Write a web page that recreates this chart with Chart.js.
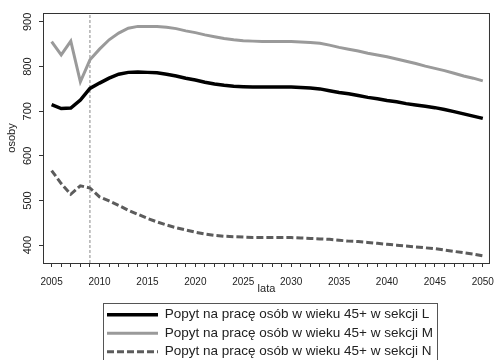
<!DOCTYPE html>
<html>
<head>
<meta charset="utf-8">
<script src="https://cdn.jsdelivr.net/npm/chart.js@4.4.1/dist/chart.umd.min.js"></script>
<style>
    html, body { margin: 0; padding: 0; background: #fff; }
    #wrap { width: 503px; height: 360px; }
</style>
</head>
<body>
<div id="wrap"><canvas id="lineChart" width="503" height="360"></canvas></div>
<script>
/** --------------------DATA-------------------- */

const years = [2005, 2006, 2007, 2008, 2009, 2010, 2011, 2012, 2013, 2014,
    2015, 2016, 2017, 2018, 2019, 2020, 2021, 2022, 2023, 2024,
    2025, 2026, 2027, 2028, 2029, 2030, 2031, 2032, 2033, 2034,
    2035, 2036, 2037, 2038, 2039, 2040, 2041, 2042, 2043, 2044,
    2045, 2046, 2047, 2048, 2049, 2050];

const sekcjaL = [715, 706, 707, 725, 751, 763, 774, 783, 787, 788,
    787, 786, 783, 779, 774, 770, 765, 761, 758, 756,
    755, 754, 754, 754, 754, 754, 753, 752, 750, 746,
    742, 739, 735, 731, 728, 724, 721, 717, 714, 711,
    708, 704, 699, 694, 689, 684];

const sekcjaM = [856, 826, 857, 766, 815, 839, 860, 875, 886, 890,
    890, 890, 888, 885, 880, 876, 871, 867, 863, 860,
    858, 857, 856, 856, 856, 856, 855, 854, 852, 848,
    843, 839, 835, 830, 826, 822, 817, 812, 807, 801,
    796, 791, 785, 779, 774, 768];

const sekcjaN = [567, 538, 514, 533, 528, 508, 499, 489, 478, 469,
    460, 452, 445, 439, 434, 429, 425, 422, 420, 419,
    418, 417, 417, 417, 417, 417, 416, 415, 414, 413,
    411, 409, 408, 406, 404, 402, 400, 398, 396, 394,
    392, 389, 386, 383, 380, 376];

const seriesLabels = [
    'Popyt na pracę osób w wieku 45+ w sekcji L',
    'Popyt na pracę osób w wieku 45+ w sekcji M',
    'Popyt na pracę osób w wieku 45+ w sekcji N'
];

const yTicks = [400, 500, 600, 700, 800, 900];
const xTickLabels = [2005, 2010, 2015, 2020, 2025, 2030, 2035, 2040, 2045, 2050];
const forecastStart = 2009;   // dashed marker line
const yMin = 360;
const yMax = 920;

/** --------------------CHART-------------------- */

const fontFamily = 'Arial, "Liberation Sans", sans-serif';

// legend rows left-aligned, a bit in from the plot's left edge
const legendShift = {
    id: 'legendShift',
    afterLayout(chart) {
        const lg = chart.legend;
        if (lg) {
            lg.left = chart.chartArea.left + 59;
        }
    }
};

// frame around plot area + box around the legend
const framePlugin = {
    id: 'framePlugin',
    afterDraw(chart) {
        const ctx = chart.ctx;
        const a = chart.chartArea;
        ctx.save();
        ctx.strokeStyle = '#333';
        ctx.lineWidth = 1;
        ctx.strokeRect(a.left + 0.5, a.top + 0.5, a.right - a.left - 1, a.bottom - a.top);

        const legend = chart.legend;
        if (legend && legend.legendHitBoxes.length) {
            let left = Infinity, right = -Infinity;
            legend.legendHitBoxes.forEach(hb => {
                left = Math.min(left, hb.left);
                right = Math.max(right, hb.left + hb.width);
            });
            ctx.strokeStyle = '#555';
            ctx.strokeRect(left - 3.5, legend.top + 0.5, right - left + 8, legend.bottom - legend.top + 10);
        }
        ctx.restore();
    }
};

const ctx = document.getElementById('lineChart').getContext('2d');
let lineChart = new Chart(ctx, {
    type: 'line',
    data: {
        labels: years,
        datasets: [
            {
                label: seriesLabels[0],
                data: sekcjaL,
                borderColor: '#000',
                borderWidth: 3.5,
                pointRadius: 0,
                tension: 0
            },
            {
                label: seriesLabels[1],
                data: sekcjaM,
                borderColor: '#9a9a9a',
                borderWidth: 3,
                pointRadius: 0,
                tension: 0
            },
            {
                label: seriesLabels[2],
                data: sekcjaN,
                borderColor: '#5c5c5c',
                borderWidth: 3,
                borderDash: [7, 3],
                pointRadius: 0,
                tension: 0
            },
            {
                label: '',
                data: [{x: forecastStart, y: yMin}, {x: forecastStart, y: yMax}],
                borderColor: '#888',
                borderWidth: 1,
                borderDash: [3, 2],
                pointRadius: 0
            }
        ]
    },
    options: {
        responsive: false,
        animation: false,
        layout: {
            padding: {top: 13, right: 5, left: 0, bottom: -8.5}
        },
        scales: {
            x: {
                type: 'linear',
                min: 2004.1,
                max: 2050.75,
                afterBuildTicks: scale => {
                    scale.ticks = years.map(v => ({value: v}));
                },
                afterFit: scale => { scale.height = 40; },
                ticks: {
                    autoSkip: false,
                    maxRotation: 0,
                    padding: 9,
                    color: '#222',
                    font: {family: fontFamily, size: 10},
                    callback: v => xTickLabels.includes(v) ? String(v) : ''
                },
                grid: {
                    drawOnChartArea: false,
                    drawTicks: true,
                    tickLength: 4,
                    color: '#333'
                },
                border: {display: true, color: '#333'},
                title: {
                    display: true,
                    text: 'lata',
                    color: '#222',
                    font: {family: fontFamily, size: 11},
                    padding: {top: 0, bottom: 7.5}
                }
            },
            y: {
                min: yMin,
                max: yMax,
                afterBuildTicks: scale => {
                    scale.ticks = yTicks.map(v => ({value: v}));
                },
                afterFit: scale => { scale.width = 43; },
                ticks: {
                    minRotation: 90,
                    maxRotation: 90,
                    crossAlign: 'center',
                    padding: 2,
                    color: '#222',
                    font: {family: fontFamily, size: 11}
                },
                grid: {
                    drawOnChartArea: false,
                    drawTicks: true,
                    tickLength: 4,
                    color: '#333'
                },
                border: {display: true, color: '#333'},
                title: {
                    display: true,
                    text: 'osoby',
                    color: '#222',
                    font: {family: fontFamily, size: 11},
                    padding: {top: 5, bottom: 0}
                }
            }
        },
        plugins: {
            tooltip: {enabled: false},
            legend: {
                position: 'bottom',
                fullSize: false,
                align: 'start',
                labels: {
                    usePointStyle: true,
                    pointStyleWidth: 51,
                    padding: 5,
                    color: '#222',
                    font: {family: fontFamily, size: 13.5},
                    generateLabels: chart => chart.data.datasets
                        .map((ds, i) => ({
                            text: ds.label,
                            strokeStyle: ds.borderColor,
                            fillStyle: ds.borderColor,
                            lineWidth: ds.borderWidth,
                            lineDash: ds.borderDash || [],
                            pointStyle: 'line',
                            fontColor: '#222',
                            hidden: false,
                            datasetIndex: i
                        }))
                        .filter(item => item.text)
                }
            }
        }
    },
    plugins: [legendShift, framePlugin]
});
</script>
</body>
</html>
